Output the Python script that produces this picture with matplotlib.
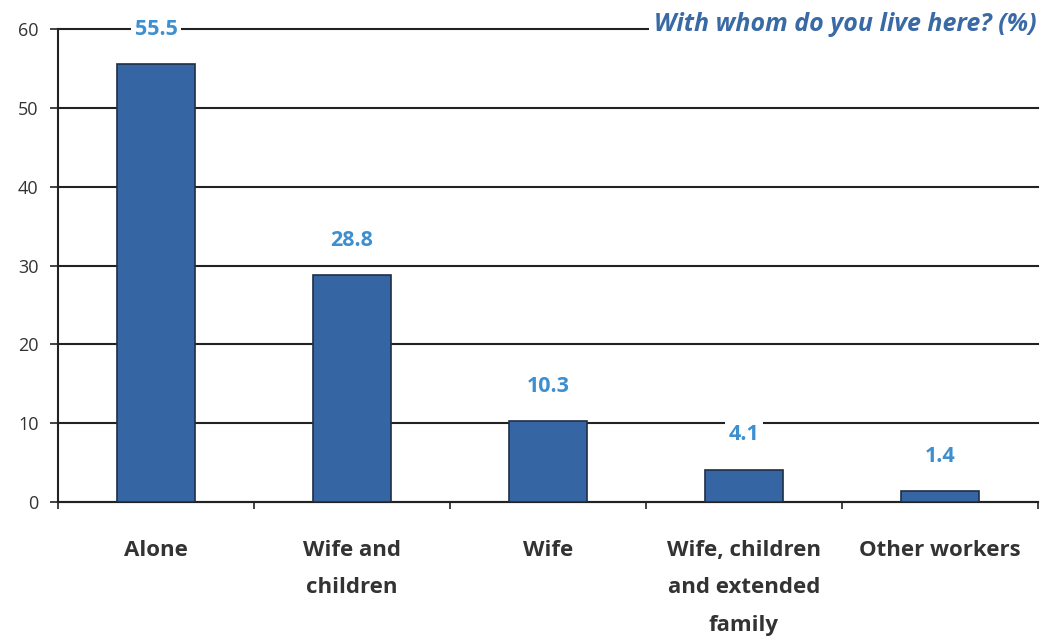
import numpy as np
import matplotlib.pyplot as plt

# ── data ─────────────────────────────────────────────
categories = ['Alone', 'Wife and\nchildren', 'Wife',
              'Wife, children\nand extended\nfamily', 'Other workers']
shares = [55.5, 28.8, 10.3, 4.1, 1.4]
y_ticks = [0, 10, 20, 30, 40, 50, 60]

BAR_COLOR = '#3566a3'
LABEL_BLUE = '#3d8fcf'
TITLE_BLUE = '#3a6aa6'
TEXT_GRAY = '#333333'

plt.rcParams['font.family'] = ['Open Sans', 'DejaVu Sans']

fig = plt.figure(figsize=(10.45, 6.41), dpi=100)
ax = fig.add_axes([0.0555, 0.2168, 0.9378, 0.738])

x = np.arange(len(categories))
ax.bar(x, shares, width=0.4, color=BAR_COLOR, edgecolor='#1f2f45',
       linewidth=1.2, zorder=3)

# value labels above each bar, on a white patch that cuts the gridline
for xi, v in zip(x, shares):
    ax.annotate(f'{v:.1f}', (xi, v), xytext=(0, 25), textcoords='offset points',
                ha='center', va='center', fontsize=15.5, fontweight='bold',
                color=LABEL_BLUE, zorder=5,
                bbox=dict(boxstyle='square,pad=0.15', fc='white', ec='none'))

ax.set_xlim(-0.5, len(categories) - 0.5)
ax.set_ylim(0, 60)
ax.set_yticks(y_ticks)
ax.yaxis.grid(True, color='#222222', linewidth=1.5, zorder=0)
ax.set_axisbelow(True)
for gl in ax.get_ygridlines():
    gl.set_clip_on(False)

# category names centred in each slot, tick marks on slot boundaries
ax.set_xticks(x)
ax.set_xticklabels(categories, fontsize=16, fontweight='bold',
                   color=TEXT_GRAY, linespacing=2.05, va='top')
ax.tick_params(axis='x', which='major', length=0, pad=27)
ax.set_xticks(np.arange(-0.5, len(categories)), minor=True)
ax.tick_params(axis='x', which='minor', length=5, width=1.2,
               direction='out', color='#222222')
ax.tick_params(axis='y', length=6, width=1.2, direction='out',
               color='#222222', labelsize=13, labelcolor=TEXT_GRAY, pad=8)

for side in ['top', 'right']:
    ax.spines[side].set_visible(False)
for side in ['left', 'bottom']:
    ax.spines[side].set_linewidth(1.5)
    ax.spines[side].set_color('#222222')

fig.text(0.992, 0.962, 'With whom do you live here? (%)', ha='right',
         va='center', fontsize=18, fontweight='bold', fontstyle='italic',
         color=TITLE_BLUE, zorder=10,
         bbox=dict(boxstyle='square,pad=0.2', fc='white', ec='none'))

fig.savefig('out.png', dpi=100, facecolor='white')
